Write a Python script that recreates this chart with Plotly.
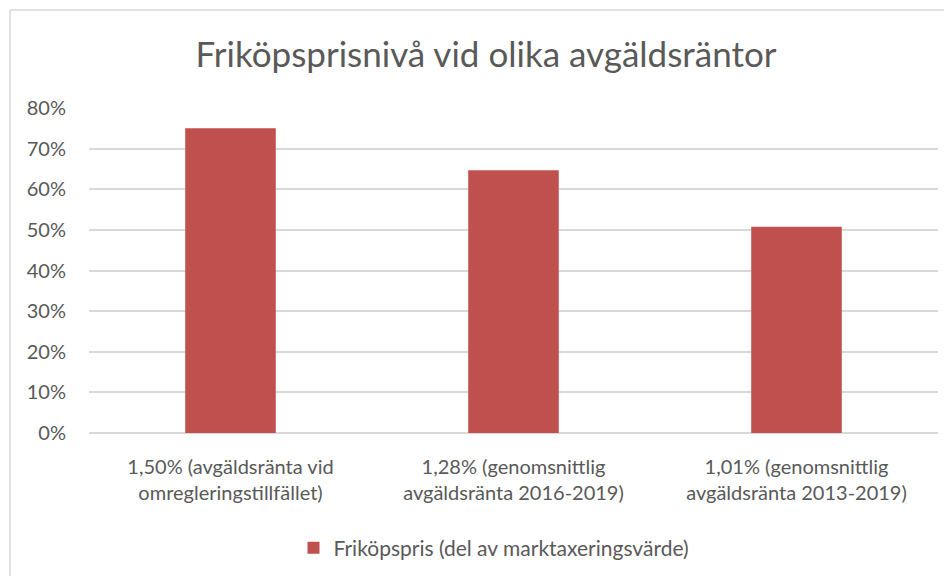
import plotly.graph_objects as go

categories = [
    "1,50% (avgäldsränta vid<br>omregleringstillfället)",
    "1,28% (genomsnittlig<br>avgäldsränta 2016-2019)",
    "1,01% (genomsnittlig<br>avgäldsränta 2013-2019)",
]
values = [0.75, 0.647, 0.508]
series_name = "Friköpspris (del av marktaxeringsvärde)"
title_text = "Friköpsprisnivå vid olika avgäldsräntor"
y_ticks = [0, 0.1, 0.2, 0.3, 0.4, 0.5, 0.6, 0.7, 0.8]

FONT = "Lato, 'Open Sans', sans-serif"
GREY = "#595959"

fig = go.Figure(
    go.Bar(
        x=categories,
        y=values,
        name=series_name,
        marker=dict(color="#C0504D", line=dict(width=0)),
        showlegend=True,
    )
)

# page body has an 8px default margin; figure sized to fit the window
W, H = 944, 568
L, R, T, B = 81, 14, 100, 143
pw = W - L - R
ph = H - T - B
y0px = H - B  # figure y of the 0% line

fig.update_layout(
    width=W,
    height=H,
    margin=dict(l=L, r=R, t=T, b=B, autoexpand=False),
    paper_bgcolor="white",
    plot_bgcolor="white",
    bargap=0.68,
    font=dict(family=FONT, color=GREY, size=20),
    title=dict(
        text=title_text,
        x=478 / W,
        xanchor="center",
        y=1 - 47 / H,
        yanchor="middle",
        font=dict(family=FONT, size=35, color=GREY),
    ),
    showlegend=True,
    legend=dict(
        orientation="h",
        x=(486 - L) / pw,
        xanchor="center",
        y=-(540 - y0px) / ph,
        yanchor="middle",
        font=dict(family=FONT, size=21, color=GREY),
    ),
    xaxis=dict(
        showgrid=False,
        showline=False,
        ticks="",
        ticklabelstandoff=20,
        tickfont=dict(family=FONT, size=20, color=GREY),
    ),
    yaxis=dict(
        range=[0, 0.8],
        tickvals=y_ticks,
        tickformat=".0%",
        showgrid=True,
        gridcolor="#D9D9D9",
        gridwidth=1.5,
        zeroline=True,
        zerolinecolor="#D9D9D9",
        zerolinewidth=1.5,
        showline=False,
        ticks="",
        ticklabelstandoff=22,
        tickfont=dict(family=FONT, size=20, color=GREY),
    ),
)

# chart area border (light grey)
fig.add_shape(
    type="rect",
    xref="paper",
    yref="paper",
    x0=(2 - L) / pw,
    x1=(W + 30 - L) / pw,
    y0=-(H + 30 - y0px) / ph,
    y1=(y0px - 2) / ph,
    line=dict(color="#D9D9D9", width=1.5),
    fillcolor="rgba(0,0,0,0)",
    layer="below",
)

fig.write_html("out.html")
